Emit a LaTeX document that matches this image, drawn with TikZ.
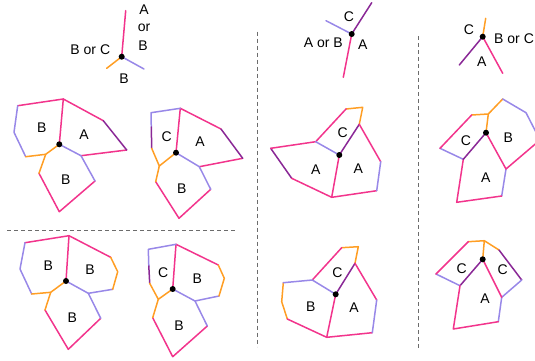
\documentclass[tikz,border=0pt]{standalone}
\usepackage{fontspec}
\setmainfont{Liberation Sans}
\definecolor{cpink}{RGB}{242,52,140}
\definecolor{clav}{RGB}{152,136,232}
\definecolor{corange}{RGB}{255,158,36}
\definecolor{cdpurp}{RGB}{138,40,150}
\begin{document}
\begin{tikzpicture}[x=1pt,y=-1pt,
 e/.style={line width=1.5pt, line cap=round, line join=round},
 pk/.style={e, draw=cpink}, lv/.style={e, draw=clav},
 og/.style={e, draw=corange}, dp/.style={e, draw=cdpurp},
 lab/.style={font=\fontsize{14}{16}\selectfont, inner sep=0pt},
 dotn/.style={circle, fill=black, inner sep=0pt, minimum size=6pt},
 sep/.style={draw=gray!85!black, line width=1pt, dash pattern=on 4pt off 3pt}]
\useasboundingbox (0,0) rectangle (535,360);
\clip (0,0) rectangle (535,360);
% separators
\draw[sep] (257.3,31.7) -- (257.3,346.7);
\draw[sep] (418.7,36) -- (418.7,348);
\draw[sep] (7,230) -- (236.7,230);
% key 1
\coordinate (k1) at (121.7,56.7);
\draw[pk] (k1) -- (125.7,10.7);
\draw[og] (k1) -- (106.7,68.3);
\draw[lv] (k1) -- (144,69);
\node[dotn] (k1d) at (k1) {};
\node[lab] (k1a) at (144,10) {A};
\node[lab] (k1or) at (144,28) {or};
\node[lab] (k1b) at (143,46) {B};
\node[lab] (k1bc) at (90.3,49.3) {B or C};
\node[lab] (k1bb) at (124,79) {B};
% key 2
\coordinate (k2) at (351.7,34);
\draw[dp] (k2) -- (371.7,2.7);
\draw[lv] (k2) -- (326,20.7);
\draw[pk] (k2) -- (343.3,77.3);
\node[dotn] (k2d) at (k2) {};
\node[lab] (k2c) at (349,16.7) {C};
\node[lab] (k2ab) at (323.3,42.7) {A or B};
\node[lab] (k2a) at (362.7,44.3) {A};
% key 3
\coordinate (k3) at (482.7,36.7);
\draw[og] (k3) -- (485.7,18.3);
\draw[dp] (k3) -- (459.3,65);
\draw[pk] (k3) -- (502.7,73.3);
\node[dotn] (k3d) at (k3) {};
\node[lab] (k3c) at (469,30) {C};
\node[lab, anchor=west] (k3bc) at (494,38.3) {B or C};
\node[lab] (k3a) at (481.7,61.7) {A};
% polygon 1
\coordinate (d1) at (59.3,144.3);
\draw[pk] (63.3,99) -- (d1);
\draw[pk] (63.3,99) -- (17.7,105.7);
\draw[pk] (39,173.3) -- (59.3,211.7) -- (95,181);
\draw[pk] (81,155.7) -- (126.7,150);
\draw[pk] (103.3,120.7) -- (63.3,99);
\draw[lv] (17.7,105.7) -- (14,132.3) -- (25.7,156.7);
\draw[lv] (95,181) -- (81,155.7) -- (d1);
\draw[og] (25.7,156.7) -- (45.7,154.3) -- (d1);
\draw[og] (45.7,154.3) -- (39,173.3);
\draw[dp] (126.7,150) -- (103.3,120.7);
\node[dotn] (p1) at (d1) {};
\node[lab] (p1b) at (41.7,127.7) {B};
\node[lab] (p1a) at (84,134.3) {A};
\node[lab] (p1b2) at (65.7,180) {B};
% polygon 2
\coordinate (d2) at (176,152.7);
\draw[pk] (180.3,108.3) -- (d2);
\draw[pk] (155.7,181.7) -- (179,218.3) -- (210.7,189.3);
\draw[pk] (199.3,166.7) -- (242.7,158.3);
\draw[pk] (221,129) -- (180.3,108.3);
\draw[lv] (180.3,108.3) -- (151,112.7) -- (151.3,127);
\draw[lv] (210.7,189.3) -- (199.3,166.7) -- (d2);
\draw[dp] (151.3,127) -- (151.7,148.3);
\draw[dp] (242.7,158.3) -- (221,129);
\draw[og] (151.7,148.3) -- (159.3,166) -- (d2);
\draw[og] (159.3,166) -- (155.7,181.7);
\node[dotn] (p2) at (d2) {};
\node[lab] (p2c) at (166.7,136.7) {C};
\node[lab] (p2a) at (200,141.7) {A};
\node[lab] (p2b) at (181.7,189) {B};
% polygon 3
\coordinate (d3) at (339.3,155);
\draw[og] (346,109) -- (362.7,107.3) -- (359.3,124.3);
\draw[dp] (359.3,124.3) -- (d3);
\draw[dp] (291.7,178.3) -- (270.7,148.3);
\draw[pk] (359.3,124.3) -- (380.7,161.7);
\draw[pk] (376.7,190.7) -- (331.7,197.3) -- (d3);
\draw[pk] (331.7,197.3) -- (291.7,178.3);
\draw[pk] (270.7,148.3) -- (315.7,141.7) -- (346,109);
\draw[lv] (380.7,161.7) -- (376.7,190.7);
\draw[lv] (315.7,141.7) -- (d3);
\node[dotn] (p3) at (d3) {};
\node[lab] (p3c) at (342.7,132.7) {C};
\node[lab] (p3a) at (315.7,170) {A};
\node[lab] (p3a2) at (358.3,168.3) {A};
% polygon 4
\coordinate (d4) at (486,132.7);
\draw[og] (d4) -- (488.3,114) -- (471.7,115);
\draw[og] (488.3,114) -- (502.7,99);
\draw[lv] (502.7,99) -- (526,112.7) -- (540,140);
\draw[lv] (506,169) -- (501.7,196);
\draw[lv] (463.3,159.3) -- (440,148.3);
\draw[pk] (540,140) -- (506,169) -- (d4);
\draw[pk] (501.7,196) -- (456.7,202.3) -- (463.3,159.3);
\draw[pk] (440,148.3) -- (471.7,115);
\draw[dp] (463.3,159.3) -- (d4);
\node[dotn] (p4) at (d4) {};
\node[lab] (p4c) at (466,140.7) {C};
\node[lab] (p4b) at (508.3,137.7) {B};
\node[lab] (p4a) at (485.7,177.3) {A};
% polygon 5
\coordinate (d5) at (66,281);
\draw[pk] (69,235.7) -- (d5);
\draw[pk] (69,235.7) -- (25,242.7);
\draw[pk] (45,310) -- (68.3,349.3) -- (100.7,318.3);
\draw[pk] (110.7,257.3) -- (69,235.7);
\draw[lv] (25,242.7) -- (20,269) -- (31.7,294);
\draw[lv] (100.7,318.3) -- (88.3,293.3) -- (d5);
\draw[lv] (88.3,293.3) -- (112.7,289.3);
\draw[og] (31.7,294) -- (50.7,292.3) -- (d5);
\draw[og] (50.7,292.3) -- (45,310);
\draw[og] (112.7,289.3) -- (117.7,271.7) -- (110.7,257.3);
\node[dotn] (p5) at (d5) {};
\node[lab] (p5b) at (48.3,265.7) {B};
\node[lab] (p5b2) at (90,270) {B};
\node[lab] (p5b3) at (72.3,317.7) {B};
% polygon 6
\coordinate (d6) at (172.7,289);
\draw[pk] (176,244.3) -- (d6);
\draw[pk] (152.7,317.7) -- (172.7,356.7) -- (207.3,326);
\draw[pk] (218.3,265) -- (176,244.3);
\draw[lv] (176,244.3) -- (148.3,249.3) -- (148.8,266);
\draw[dp] (148.8,266) -- (149.7,283.3);
\draw[lv] (207.3,326) -- (195,301) -- (d6);
\draw[lv] (195,301) -- (219,296);
\draw[og] (149.7,283.3) -- (158.3,299.3) -- (d6);
\draw[og] (158.3,299.3) -- (152.7,317.7);
\draw[og] (219,296) -- (224.3,278.3) -- (218.3,265);
\node[dotn] (p6) at (d6) {};
\node[lab] (p6c) at (163.3,272.3) {C};
\node[lab] (p6b) at (197.3,278.3) {B};
\node[lab] (p6b2) at (179,326) {B};
% polygon 7
\coordinate (d7) at (335.7,294.3);
\draw[og] (341.7,247.7) -- (358.3,246.7) -- (355,263.3);
\draw[og] (287.3,319) -- (281.7,301.7) -- (283.3,282.7);
\draw[dp] (355,263.3) -- (d7);
\draw[pk] (355,263.3) -- (376.7,300);
\draw[pk] (372.3,332.7) -- (326.7,337.3) -- (d7);
\draw[pk] (326.7,337.3) -- (287.3,319);
\draw[pk] (312.3,280) -- (341.7,247.7);
\draw[lv] (376.7,300) -- (372.3,332.7);
\draw[lv] (283.3,282.7) -- (312.3,280) -- (d7);
\node[dotn] (p7) at (d7) {};
\node[lab] (p7c) at (337.3,272.3) {C};
\node[lab] (p7b) at (310.7,306.7) {B};
\node[lab] (p7a) at (354,307.7) {A};
% polygon 8
\coordinate (d8) at (482.7,259.3);
\draw[og] (d8) -- (484.3,240.7) -- (468.3,241.7);
\draw[og] (484.3,240.7) -- (499,250);
\draw[dp] (499,250) -- (521.7,280);
\draw[dp] (460,285.7) -- (d8);
\draw[lv] (521.7,280) -- (501.7,297.3) -- (498.3,321.7);
\draw[lv] (460,285.7) -- (436,274);
\draw[pk] (501.7,297.3) -- (d8);
\draw[pk] (498.3,321.7) -- (453.3,329) -- (460,285.7);
\draw[pk] (436,274) -- (468.3,241.7);
\node[dotn] (p8) at (d8) {};
\node[lab] (p8c) at (461.7,268.3) {C};
\node[lab] (p8c2) at (502.7,269.3) {C};
\node[lab] (p8a) at (485,298.3) {A};
\end{tikzpicture}
\end{document}
